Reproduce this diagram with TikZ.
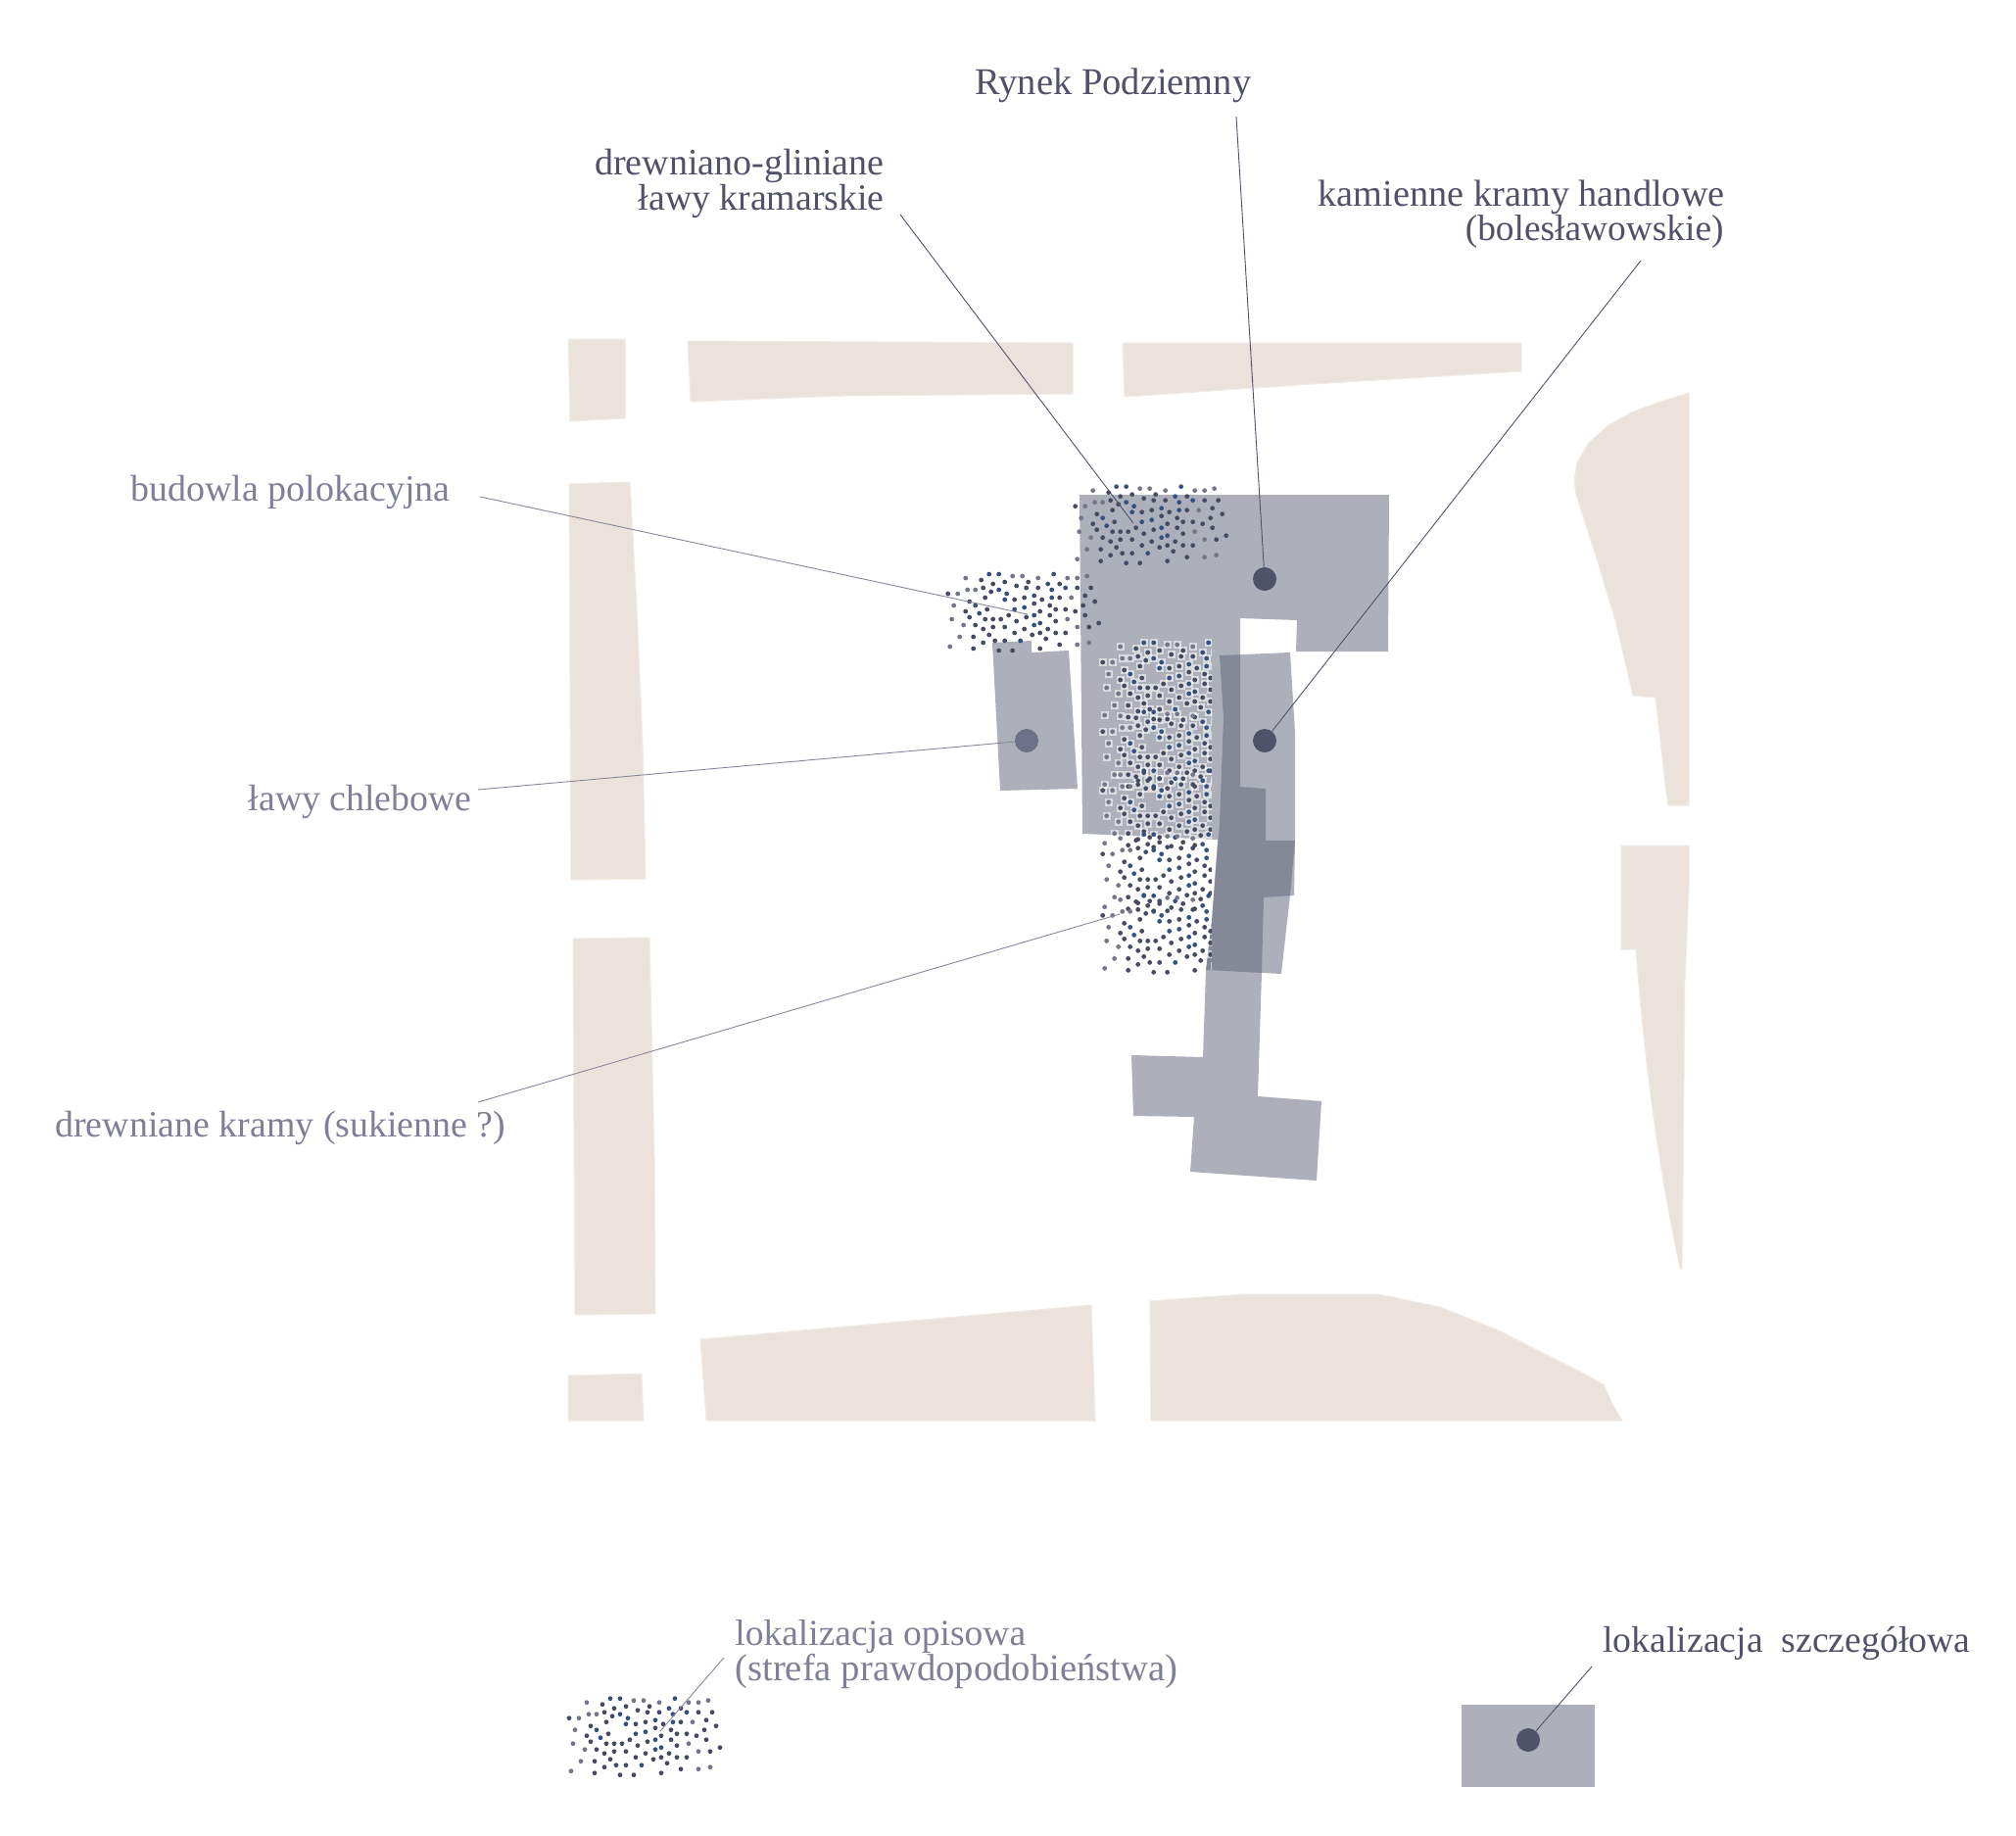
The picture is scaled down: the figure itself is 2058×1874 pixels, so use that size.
\documentclass[tikz,border=0pt]{standalone}
\usepackage{fontspec}
\setmainfont{Liberation Serif}
\definecolor{beige}{HTML}{EBE3DB}
\definecolor{blockc}{RGB}{91,97,117}
\definecolor{darkt}{HTML}{4F5268}
\definecolor{lightt}{HTML}{7D8097}
\definecolor{leadl}{HTML}{85879A}
\definecolor{midc}{HTML}{6E7089}
\definecolor{dotm}{HTML}{454A63}
\definecolor{dotb}{HTML}{34507F}
\definecolor{dotg}{HTML}{737588}
\def\cmain{545/68,617/74,689/74,581/80,653/86,785/80,551/92,683/92,719/92,839/92,881/92,443/110,575/104,557/122,647/128,677/122,731/128,785/122,863/116,509/134,893/134,755/146,857/146,563/158,707/140,773/158,803/158,497/164,725/164,833/164,629/176,755/176,863/176,509/182,683/182,557/188,581/188,605/188,653/194,773/194,527/206,905/200,551/218,581/212,617/212,677/218,749/218,875/212,647/230,725/230,773/230,803/230,569/236,701/236,521/242,743/248,551/260,587/254,617/254,785/266,521/278,725/278,599/284,641/284}
\def\cblue{569/50,599/50,767/50,749/80,803/92,761/98,623/110,599/98,707/116,761/122,647/158,677/152,707/176,707/206,725/200,665/254,527/146,539/170,617/128}
\def\cgrey{497/62,473/110,461/146,455/188,491/206,479/242,809/188,839/212,839/266,821/122,869/56,839/62,809/62,641/56,671/56,719/62,875/260,527/98,503/98,449/272}
\edef\call{\cmain,\cblue,\cgrey}
\newcommand{\dotcluster}[2]{%
  \begin{scope}[shift={(950+#1,480+#2)},x=0.166667pt,y=-0.166667pt]
    \foreach \p/\q in \cmain {\fill[dotm] (\p,\q) circle (1.2pt);}
    \foreach \p/\q in \cblue {\fill[dotb] (\p,\q) circle (1.2pt);}
    \foreach \p/\q in \cgrey {\fill[dotg] (\p,\q) circle (1.2pt);}
  \end{scope}}
\newcommand{\halocluster}[2]{%
  \begin{scope}[shift={(950+#1,480+#2)},x=0.166667pt,y=-0.166667pt]
    \foreach \p/\q in \call {\fill[white,opacity=.55] (\p-12,\q-12) rectangle ++(24,24);}
  \end{scope}}
\tikzset{
  ground/.style={fill=beige,draw=beige!70!white,line width=.5pt},
  block/.style={fill=blockc,fill opacity=.5},
  spot/.style={circle,fill=darkt,inner sep=0pt,minimum size=12pt},
  lspot/.style={spot,fill=midc},
  lead/.style={draw=darkt,line width=.45pt},
  llead/.style={draw=leadl,line width=.45pt},
  dlabel/.style={inner sep=0pt,text=darkt,font=\fontsize{#1}{19}\selectfont},
  dlabel/.default=19,
  llabel/.style={inner sep=0pt,text=lightt,font=\fontsize{#1}{19}\selectfont},
  llabel/.default=19
}
\begin{document}
\begin{tikzpicture}[x=0.5pt,y=-0.5pt]
\useasboundingbox (0,0) rectangle (2058,1874);
% ground plan
\path[ground] (580,346)--(638,346)--(638,427)--(582,430)--cycle;
\path[ground] (702,348)--(1095,350)--(1095,402)--(860,404)--(705,410)--cycle;
\path[ground] (1146,350)--(1553,350)--(1553,379)--(1340,392)--(1148,405)--cycle;
\path[ground] (581,494)--(643,492)--(650,620)--(656,760)--(659,897)--(583,898)--cycle;
\path[ground] (585,958)--(663,957)--(668,1180)--(669,1341)--(587,1342)--cycle;
\path[ground] (580,1404)--(655,1402)--(657,1450)--(580,1450)--cycle;
\path[ground] (715,1367)--(1114,1332)--(1118,1450)--(721,1450)--cycle;
\path[ground] (1174,1328)--(1270,1321)--(1407,1321)--(1470,1334)--(1530,1358)--(1573,1380)--(1611,1399)--(1637,1413)--(1646,1433)--(1656,1450)--(1175,1450)--cycle;
\path[ground] (1724,401)--(1695,410)--(1665,421)--(1642,434)--(1622,452)--(1610,472)--(1607,490)--(1609,505)--(1630,570)--(1650,637)--(1667,710)--(1690,712)--(1700,802)--(1703,822)--(1724,822)--cycle;
\path[ground] (1655,863)--(1724,863)--(1724,906)--(1720,1000)--(1717,1295)--(1715,1295) .. controls (1695,1200) and (1680,1100) .. (1670,969)--(1655,969)--cycle;
% blocks
\path[block] (1102,505)--(1418,505)--(1417,665)--(1323,665)--(1324,633)--(1266,631)--(1266,803)--(1292,805)--(1292,858)--(1322,858)--(1321,914)--(1290,916)--(1288,993)--(1284,1119)--(1349,1124)--(1344,1205)--(1215,1196)--(1219,1140)--(1157,1139)--(1155,1077)--(1228,1079)--(1231,991)--(1237,940)--(1243,857)--(1105,851)--cycle;
\path[block] (1245,669)--(1317,666)--(1322,747)--(1322,858)--(1317,913)--(1308,994)--(1231,990)--(1237,940)--(1245,840)--(1249,733)--cycle;
\path[block] (1013,656)--(1053,654)--(1053,666)--(1091,664)--(1100,805)--(1021,807)--cycle;
\path[block] (1492,1740)--(1628,1740)--(1628,1824)--(1492,1824)--cycle;
% stippled zones
\dotcluster{0}{0}
\dotcluster{-130}{89.33}
\dotcluster{-516.7}{1237}
\begin{scope}
\clip (1120,640) rectangle (1237,1010);
\halocluster{28}{159.33}
\halocluster{28}{230}
\halocluster{28}{290}
\halocluster{28}{355}
\halocluster{28}{417.7}
\dotcluster{28}{159.33}
\dotcluster{28}{230}
\dotcluster{28}{290}
\dotcluster{28}{355}
\dotcluster{28}{417.7}
\end{scope}
% spots
\node[spot] (c1) at (1291,591) {};
\node[spot] (c2) at (1291,756) {};
\node[lspot] (c3) at (1048,756) {};
\node[spot] (c4) at (1560,1776) {};
% labels
\node[dlabel=19.27,anchor=base west] (t1) at (995,96) {Rynek Podziemny};
\node[dlabel,anchor=base east] (t2a) at (903,178) {drewniano-gliniane};
\node[dlabel=18.9,anchor=base east] (t2b) at (903,214) {ławy kramarskie};
\node[dlabel=19.15,anchor=base east] (t3a) at (1761,210) {kamienne kramy handlowe};
\node[dlabel=18.7,anchor=base east] (t3b) at (1760,245) {(bolesławowskie)};
\node[llabel,anchor=base west] (t4) at (133,511) {budowla polokacyjna};
\node[llabel=18.9,anchor=base east] (t5) at (482,827) {ławy chlebowe};
\node[llabel=18.95,anchor=base west] (t6) at (56,1160) {drewniane kramy (sukienne ?)};
\node[llabel=18.75,anchor=base west] (t7a) at (750,1679) {lokalizacja opisowa};
\node[llabel=19.33,anchor=base west] (t7b) at (750,1715) {(strefa prawdopodobieństwa)};
\node[dlabel=18.87,anchor=base west] (t8) at (1636,1686) {lokalizacja\ \ szczegółowa};
% leaders
\coordinate (e1) at (1262,119);
\coordinate (e2a) at (919,219);
\coordinate (e2b) at (1157,534);
\coordinate (e3) at (1675,266);
\coordinate (e4a) at (490,507);
\coordinate (e4b) at (1049,627);
\coordinate (e5) at (488,806);
\coordinate (e6a) at (488,1125);
\coordinate (e6b) at (1143,933);
\coordinate (e7a) at (739,1692);
\coordinate (e7b) at (674,1767);
\coordinate (e8) at (1625,1701);
\draw[lead] (e1) -- (c1);
\draw[lead] (e2a) -- (e2b);
\draw[lead] (e3) -- (c2);
\draw[llead] (e4a) -- (e4b);
\draw[llead] (e5) -- (c3);
\draw[llead] (e6a) -- (e6b);
\draw[llead] (e7a) -- (e7b);
\draw[lead] (e8) -- (c4);
\end{tikzpicture}
\end{document}
